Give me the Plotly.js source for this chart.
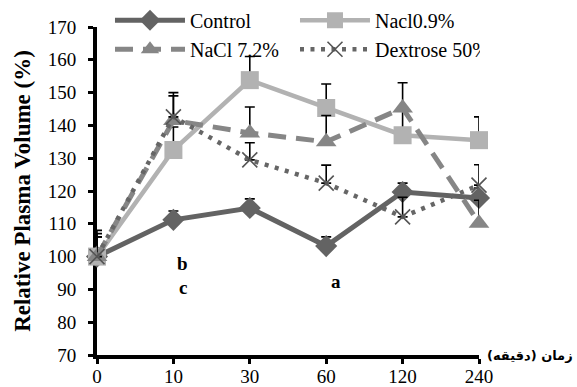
<!DOCTYPE html>
<html>
<head>
<meta charset="utf-8">
<script src="https://cdn.plot.ly/plotly-3.0.1.min.js"></script>
<style>html,body{margin:0;padding:0;background:#fff;}#chart{width:577px;height:387px;}
#chart .xtick text, #chart .ytick text, #chart text.legendtext, #chart text.ytitle,
#chart .annotation.serif-note text { font-family: 'Liberation Serif', 'Times New Roman', serif !important; }
</style>
</head>
<body>
<div id="chart"></div>
<script>
// Time points (minutes)
const timeLabels = ['0', '10', '30', '60', '120', '240'];

// Relative plasma volume (%) per group
const controlValues   = [100, 111.2, 114.8, 103.2, 119.7, 117.9];
const nacl09Values    = [100, 132.5, 153.8, 145.3, 137.0, 135.5];
const nacl72Values    = [100, 141.5, 137.7, 135.0, 145.3, 110.2];
const dextroseValues  = [100, 142.6, 129.5, 122.4, 112.1, 121.8];

// Upper error (SE) per group
const controlErr  = [6, 2.7, 2.8, 2.8, 2.7, 3.0];
const nacl09Err   = [7, 7.0, 7.2, 7.3, 7.5, 7.1];
const nacl72Err   = [8, 7.5, 7.9, 8.0, 7.7, 7.0];
const dextroseErr = [6, 7.4, 5.2, 5.5, 6.0, 6.2];

// Series names
const seriesNames = ['Control', 'Nacl0.9%', 'NaCl 7.2%', 'Dextrose 50%'];

// Significance letters
const sigLetters = [
  {text: 'b', x: 1.12, y: 98},
  {text: 'c', x: 1.12, y: 90.6},
  {text: 'a', x: 3.13, y: 92.3}
];

const serifFont = "'Liberation Serif', 'Times New Roman', serif";

function errY(arr) {
  return {type: 'data', symmetric: false, array: arr, arrayminus: arr.map(() => 0),
          color: '#000', thickness: 1.6, width: 5};
}

const traces = [
  {x: timeLabels, y: controlValues, name: seriesNames[0], type: 'scatter', mode: 'lines+markers',
   line: {color: '#636363', width: 5},
   marker: {symbol: 'diamond', size: 17, color: '#636363'},
   error_y: errY(controlErr), cliponaxis: false},
  {x: timeLabels, y: nacl09Values, name: seriesNames[1], type: 'scatter', mode: 'lines+markers',
   line: {color: '#b2b2b2', width: 4.5},
   marker: {symbol: 'square', size: 18, color: '#b2b2b2'},
   error_y: errY(nacl09Err), cliponaxis: false},
  {x: timeLabels, y: nacl72Values, name: seriesNames[2], type: 'scatter', mode: 'lines+markers',
   line: {color: '#868686', width: 5, dash: '18px,10px'},
   marker: {symbol: 'triangle-up', size: 18, color: '#868686'},
   error_y: errY(nacl72Err), cliponaxis: false},
  {x: timeLabels, y: dextroseValues, name: seriesNames[3], type: 'scatter', mode: 'lines+markers',
   line: {color: '#666666', width: 4.5, dash: '4px,6.5px'},
   marker: {symbol: 'x-thin-open', size: 15, color: '#555555', line: {color: '#555555', width: 1.6}},
   error_y: errY(dextroseErr), cliponaxis: false}
];

const annotations = sigLetters.map(s => ({
  x: s.x, y: s.y, xref: 'x', yref: 'y', text: '<b>' + s.text + '</b>', showarrow: false,
  font: {family: serifFont, size: 19, color: '#000'}
}));
annotations.push({
  x: 1, y: 0, xref: 'paper', yref: 'paper', xanchor: 'left', yanchor: 'middle', xshift: 6,
  text: '<b>زمان (دقیقه)</b>', showarrow: false,
  font: {family: "'DejaVu Sans', sans-serif", size: 13, color: '#000'}
});

const layout = {
  width: 577, height: 387,
  margin: {l: 97, r: 98, t: 27, b: 32, autoexpand: false},
  paper_bgcolor: '#fff', plot_bgcolor: '#fff',
  font: {family: serifFont, color: '#000', size: 19},
  showlegend: true,
  legend: {
    orientation: 'h', x: 0.034, y: 1.08, xanchor: 'left', yanchor: 'top',
    entrywidth: 100, entrywidthmode: 'pixels', itemwidth: 70,
    font: {family: serifFont, size: 20, color: '#000'},
    bgcolor: 'rgba(0,0,0,0)', traceorder: 'normal'
  },
  xaxis: {
    type: 'category', range: [0, 5], showgrid: false, zeroline: false,
    showline: true, linecolor: '#000', linewidth: 4,
    ticks: 'outside', ticklen: 5, tickwidth: 3, tickcolor: '#000',
    ticklabelstandoff: -4,
    tickfont: {family: serifFont, size: 19, color: '#000'},
    layer: 'below traces', fixedrange: true
  },
  yaxis: {
    range: [70, 170], dtick: 10, showgrid: false, zeroline: false,
    showline: true, linecolor: '#000', linewidth: 4,
    ticks: 'outside', ticklen: 5, tickwidth: 3, tickcolor: '#000',
    ticklabelstandoff: 8,
    tickfont: {family: serifFont, size: 19, color: '#000'},
    title: {text: '<b>Relative Plasma Volume (%)</b>', standoff: 12,
            font: {family: serifFont, size: 23, color: '#000'}},
    layer: 'below traces', fixedrange: true
  },
  annotations: annotations
};

Plotly.newPlot('chart', traces, layout, {displayModeBar: false, staticPlot: true}).then(function () {
  // tag the letter annotations so the serif rule applies to them
  const notes = document.querySelectorAll('#chart .annotation');
  notes.forEach(function (n, i) { if (i < sigLetters.length) n.classList.add('serif-note'); });
});
</script>
</body>
</html>
